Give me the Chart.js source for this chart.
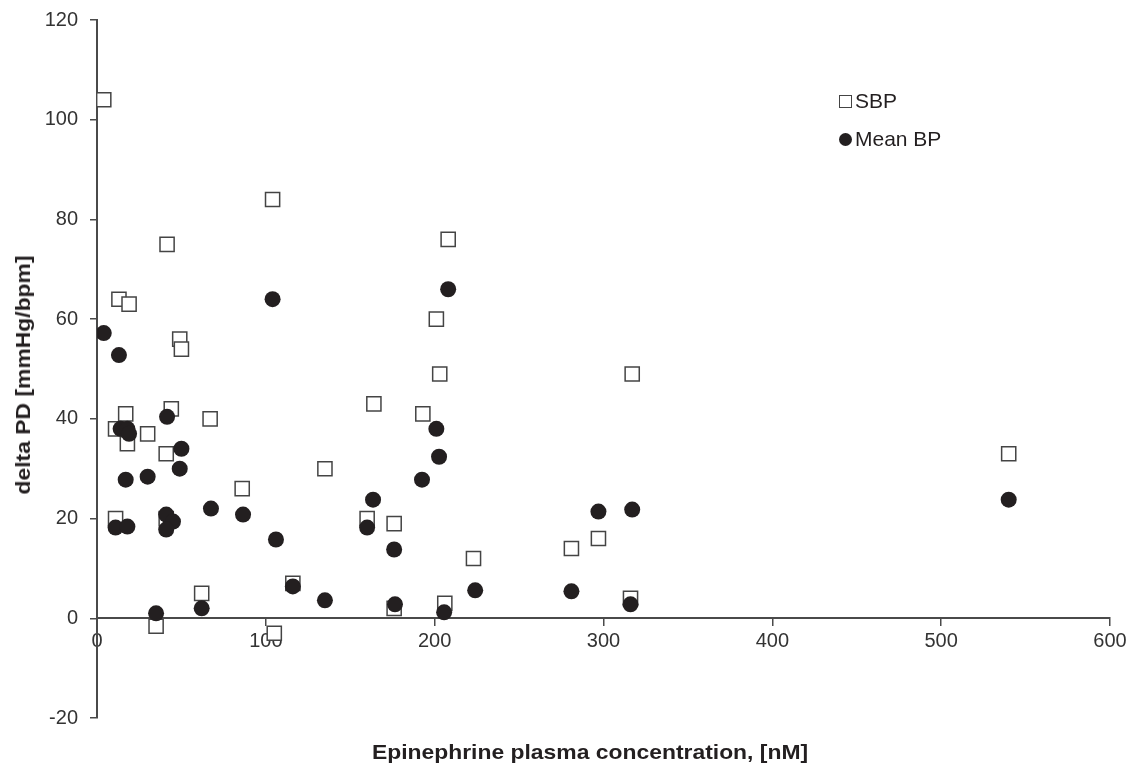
<!DOCTYPE html>
<html>
<head>
<meta charset="utf-8">
<script src="https://cdn.jsdelivr.net/npm/chart.js@4"></script>
<style>
  body { margin:0; background:#fff; }
  #wrap { position:relative; width:1135px; height:769px; }
  .axt { position:absolute; font-family:'Liberation Sans',Arial,sans-serif; font-weight:700; font-size:21px; color:#231f20; white-space:nowrap; }
  #xt { left:590px; top:752px; transform:translate(-50%,-50%) scaleX(1.09); }
  #yt { left:23px; top:375px; transform:translate(-50%,-50%) rotate(-90deg) scaleX(1.09); }
  .lg { position:absolute; left:839px; font-family:'Liberation Sans',Arial,sans-serif; font-size:21px; color:#231f20; display:flex; align-items:center; }
  .lg i { display:inline-block; margin-right:3px; }
  #lg1 { top:89px; }
  #lg2 { top:127px; }
  #lg1 i { width:11px; height:11px; border:1.5px solid #444; background:#fff; }
  #lg2 i { width:13px; height:13px; border-radius:50%; background:#231f20; }
</style>
</head>
<body>
<div id="wrap">
  <canvas id="chart" width="1135" height="769"></canvas>
  <div class="axt" id="xt">Epinephrine plasma concentration, [nM]</div>
  <div class="axt" id="yt">delta PD [mmHg/bpm]</div>
  <div class="lg" id="lg1"><i></i>SBP</div>
  <div class="lg" id="lg2"><i></i>Mean BP</div>
</div>
<script>
// SBP (open squares)
const sbpX = [4, 104, 41.5, 208, 13, 19, 49, 50, 201, 203, 317, 164, 44, 17, 67, 193, 30, 11, 18, 41, 135, 86, 540, 11, 41, 160, 176, 223, 281, 297, 62, 116, 316, 176, 206, 35, 105];
const sbpY = [104, 84, 75, 76, 64, 63, 56, 54, 60, 49, 49, 43, 42, 41, 40, 41, 37, 38, 35, 33, 30, 26, 33, 20, 20, 20, 19, 12, 14, 16, 5, 7, 4, 2, 3, -1.6, -3];

// Mean BP (filled circles)
const meanX = [4, 13, 104, 208, 41.5, 14, 18, 19, 50, 49, 17, 30, 67.5, 86.5, 11, 18, 41, 45, 41, 106, 116, 135, 35, 62, 163.5, 160, 176, 176.5, 192.5, 201, 202.6, 205.6, 224, 281, 297, 317, 316, 540];
const meanY = [57.2, 52.8, 64, 66, 40.4, 38, 38, 37, 34, 30, 27.8, 28.4, 22, 20.8, 18.2, 18.4, 20.8, 19.4, 17.8, 15.8, 6.4, 3.6, 1, 2, 23.8, 18.2, 13.8, 2.8, 27.8, 38, 32.4, 1.2, 5.6, 5.4, 21.4, 21.8, 2.8, 23.8];

const xTicks = [0, 100, 200, 300, 400, 500, 600];
const yTicks = [-20, 0, 20, 40, 60, 80, 100, 120];

const toPts = (xs, ys) => xs.map((x, i) => ({ x: x, y: ys[i] }));
const axisColor = '#4a4a4a';
const tickFont = { family: "'Liberation Sans', Arial, sans-serif", size: 20 };

new Chart(document.getElementById('chart'), {
    type: 'scatter',
    data: {
        datasets: [
            { label: 'Mean BP', data: toPts(meanX, meanY), pointStyle: 'circle', pointRadius: 8, pointHoverRadius: 8,
              backgroundColor: '#231f20', borderColor: '#231f20', borderWidth: 0, order: 1 },
            { label: 'SBP', data: toPts(sbpX, sbpY), pointStyle: 'rect', pointRadius: 10, pointHoverRadius: 10,
              backgroundColor: '#fff', borderColor: '#444', borderWidth: 1.5, order: 2 }
        ]
    },
    options: {
        responsive: false,
        animation: false,
        layout: { padding: { top: 20, right: 25, bottom: 51, left: 0 } },
        plugins: { legend: { display: false }, tooltip: { enabled: false } },
        scales: {
            x: {
                type: 'linear', position: { y: 0 }, min: 0, max: 600,
                afterBuildTicks: s => { s.ticks = xTicks.map(v => ({ value: v })); },
                afterFit: s => { s.paddingTop = 0; },
                ticks: { font: tickFont, color: '#333', padding: 4 },
                grid: { drawOnChartArea: false, drawTicks: true, tickLength: 7, color: axisColor, lineWidth: 1.5 },
                border: { display: true, color: axisColor, width: 2 }
            },
            y: {
                type: 'linear', min: -20, max: 120,
                afterBuildTicks: s => { s.ticks = yTicks.map(v => ({ value: v })); },
                afterFit: s => { s.width = 97; s.paddingTop = 0; },
                ticks: { font: tickFont, color: '#333', padding: 12 },
                grid: { drawOnChartArea: false, drawTicks: true, tickLength: 7, color: axisColor, lineWidth: 1.5 },
                border: { display: true, color: axisColor, width: 2 }
            }
        }
    }
});
</script>
</body>
</html>
